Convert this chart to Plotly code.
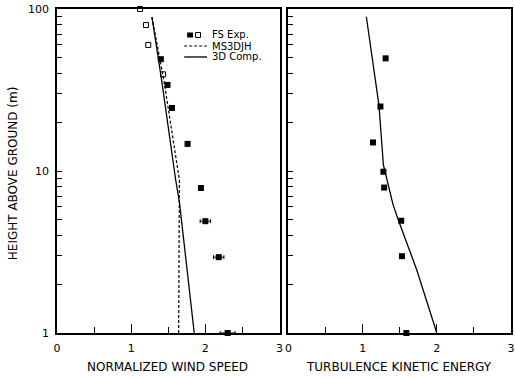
import plotly.graph_objects as go

# ---- data ----
fs_filled_h = [49, 34, 24.5, 14.7, 7.85, 4.9, 2.94, 1.0]
fs_filled_u = [1.40, 1.49, 1.55, 1.76, 1.94, 2.00, 2.18, 2.30]
fs_filled_err = [0, 0, 0, 0, 0, 0.07, 0.07, 0.10]
fs_open_h = [100, 79.6, 60, 39.5]
fs_open_u = [1.12, 1.20, 1.23, 1.43]

ms3djh_h = [89, 36.5, 8.8, 6.45, 4.0, 1.0]
ms3djh_u = [1.28, 1.44, 1.65, 1.65, 1.65, 1.64]
comp3d_h = [89, 36.5, 8.8, 6.45, 1.0]
comp3d_u = [1.28, 1.41, 1.60, 1.65, 1.85]

tke_exp_h = [49.6, 25, 15, 9.9, 7.9, 4.93, 2.98, 1.0]
tke_exp_k = [1.31, 1.24, 1.14, 1.28, 1.29, 1.52, 1.53, 1.59]
tke_comp_h = [89.6, 45, 25.5, 10.9, 6.2, 5.0, 2.45, 1.0]
tke_comp_k = [1.05, 1.14, 1.22, 1.28, 1.41, 1.48, 1.73, 2.00]

y_decades = [1, 10, 100]
y_all_ticks = [1, 2, 3, 4, 5, 6, 7, 8, 9, 10, 20, 30, 40, 50, 60, 70, 80, 90, 100]
y_all_text = ["1", "", "", "", "", "", "", "", "", "10", "", "", "", "", "", "", "", "", "100"]
x_ticks = [0, 1, 2, 3]

FONT = "DejaVu Sans"
BLACK = "#000000"

fig = go.Figure()

# left panel
fig.add_trace(go.Scatter(x=comp3d_u, y=comp3d_h, mode="lines",
                         line=dict(color=BLACK, width=1.3), xaxis="x", yaxis="y",
                         showlegend=False))
fig.add_trace(go.Scatter(x=ms3djh_u, y=ms3djh_h, mode="lines",
                         line=dict(color=BLACK, width=1.2, dash="3px,2px"), xaxis="x", yaxis="y",
                         showlegend=False))
fig.add_trace(go.Scatter(x=fs_open_u, y=fs_open_h, mode="markers",
                         marker=dict(symbol="square-open", size=5, color=BLACK, line=dict(width=1)),
                         xaxis="x", yaxis="y", cliponaxis=False, showlegend=False))
fig.add_trace(go.Scatter(x=fs_filled_u, y=fs_filled_h, mode="markers",
                         marker=dict(symbol="square", size=6, color=BLACK),
                         error_x=dict(type="data", array=fs_filled_err, color=BLACK, thickness=1, width=2),
                         xaxis="x", yaxis="y", cliponaxis=False, showlegend=False))

# right panel
fig.add_trace(go.Scatter(x=tke_comp_k, y=tke_comp_h, mode="lines",
                         line=dict(color=BLACK, width=1.3), xaxis="x2", yaxis="y2",
                         showlegend=False))
fig.add_trace(go.Scatter(x=tke_exp_k, y=tke_exp_h, mode="markers",
                         marker=dict(symbol="square", size=6, color=BLACK),
                         xaxis="x2", yaxis="y2", cliponaxis=False, showlegend=False))

xcommon = dict(range=[0, 3], tickmode="array", tickvals=x_ticks, ticks="inside", ticklen=9, tickwidth=1,
               tickcolor=BLACK, showline=True, linecolor=BLACK, linewidth=1.5, mirror=True,
               showgrid=False, zeroline=False, ticklabelstandoff=4,
               tickfont=dict(family=FONT, size=11, color=BLACK),
               minor=dict(dtick=0.5, ticks="inside", ticklen=6, tickwidth=1, tickcolor=BLACK, showgrid=False))
# short ticks at every 1-2-...-9 value, labels only at decades
ycommon = dict(type="log", range=[0, 2], tickmode="array", tickvals=y_all_ticks, ticktext=y_all_text,
               ticks="inside", ticklen=5, tickwidth=1, tickcolor=BLACK, showline=True, linecolor=BLACK,
               linewidth=1.5, mirror=True, showgrid=False, zeroline=False, ticklabelstandoff=4,
               tickfont=dict(family=FONT, size=11, color=BLACK))
# overlay axes carrying the longer decade ticks
ydec = dict(type="log", range=[0, 2], tickmode="array", tickvals=y_decades, ticks="inside",
            ticklen=9, tickwidth=1, tickcolor=BLACK, showline=False, showgrid=False,
            zeroline=False, showticklabels=False, side="left")

fig.update_layout(
    width=515, height=378,
    margin=dict(l=57, r=1, t=9, b=45),
    paper_bgcolor="white", plot_bgcolor="white",
    xaxis=dict(domain=[0, 0.4902], anchor="y", **xcommon),
    yaxis=dict(domain=[0, 1], anchor="x", showticklabels=True, **ycommon),
    xaxis2=dict(domain=[0.5098, 1], anchor="y2", **xcommon),
    yaxis2=dict(domain=[0, 1], anchor="x2", showticklabels=False, **ycommon),
    yaxis3=dict(overlaying="y", anchor="x", **ydec),
    yaxis4=dict(overlaying="y2", anchor="x2", **ydec),
    showlegend=False,
)

# axis titles
tfont = dict(family=FONT, size=12, color=BLACK)
fig.add_annotation(text="NORMALIZED WIND SPEED", xref="paper", yref="paper", x=0.244, y=-0.105,
                   showarrow=False, font=tfont, xanchor="center", yanchor="middle")
fig.add_annotation(text="TURBULENCE KINETIC ENERGY", xref="paper", yref="paper", x=0.7527, y=-0.105,
                   showarrow=False, font=tfont, xanchor="center", yanchor="middle")
fig.add_annotation(text="HEIGHT ABOVE GROUND (m)", xref="paper", yref="paper", x=-0.0963, y=0.494,
                   showarrow=False, font=tfont, textangle=-90, xanchor="center", yanchor="middle")

# manual legend
lfont = dict(family=FONT, size=10, color=BLACK)
leg_y = [0.9198, 0.8858, 0.8519]
fig.add_shape(type="rect", xref="paper", yref="paper", xsizemode="pixel", ysizemode="pixel",
              xanchor=0.2932, yanchor=leg_y[0], x0=-3, x1=3, y0=-2.5, y1=2.5,
              fillcolor=BLACK, line=dict(color=BLACK, width=0))
fig.add_shape(type="rect", xref="paper", yref="paper", xsizemode="pixel", ysizemode="pixel",
              xanchor=0.3107, yanchor=leg_y[0], x0=-2.5, x1=2.5, y0=-2.5, y1=2.5,
              fillcolor="white", line=dict(color=BLACK, width=1))
fig.add_shape(type="line", xref="paper", yref="paper", x0=0.2801, x1=0.3304, y0=leg_y[1], y1=leg_y[1],
              line=dict(color=BLACK, width=1.2, dash="3px,2px"))
fig.add_shape(type="line", xref="paper", yref="paper", x0=0.2801, x1=0.3304, y0=leg_y[2], y1=leg_y[2],
              line=dict(color=BLACK, width=1.3))
for txt, yy in zip(["FS Exp.", "MS3DJH", "3D Comp."], leg_y):
    fig.add_annotation(text=txt, xref="paper", yref="paper", x=0.3392, y=yy, showarrow=False,
                       font=lfont, xanchor="left", yanchor="middle", borderpad=0)

fig.write_html("out.html")
